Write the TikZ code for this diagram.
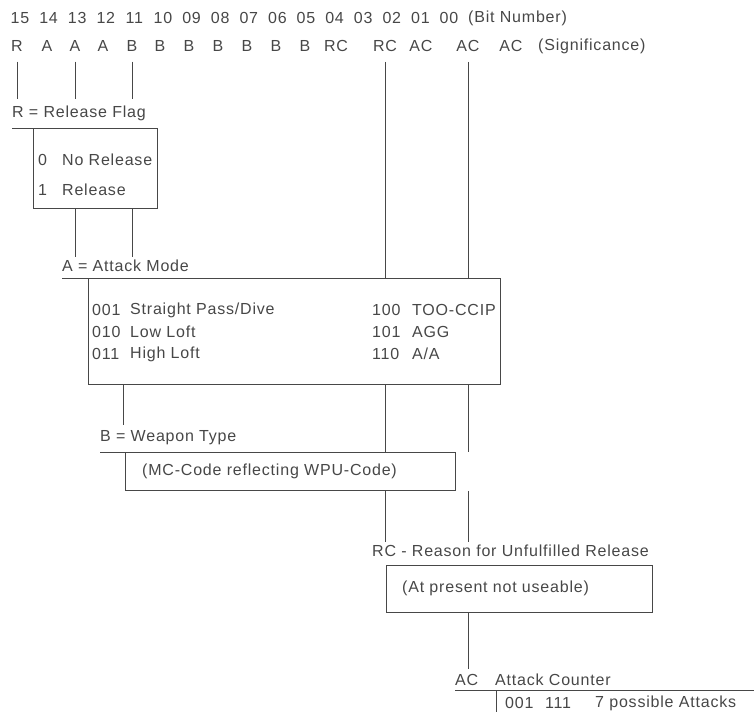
\documentclass[tikz,border=0pt]{standalone}
\usepackage{fontspec}
\setmainfont{Liberation Sans}[LetterSpace=5]
\usetikzlibrary{positioning}

\definecolor{ink}{gray}{0.28}

\tikzset{
  lbl/.style={inner sep=0pt, text=ink, font=\fontsize{16}{19}\selectfont},
  lft/.style={lbl, anchor=west},
  wire/.style={draw=ink, line width=0.8pt},
  drop/.style={wire, shorten <=10pt},
  field/.style={draw=ink, line width=0.8pt, inner sep=0pt, anchor=north west},
}

\begin{document}
\begin{tikzpicture}[x=1pt,y=-1pt]
\useasboundingbox (0,0) rectangle (754,712);

% bit numbers and their meaning
\foreach \b [count=\i from 0] in {15,14,13,12,11,10,09,08,07,06,05,04,03,02,01,00}
	\node[lbl] (n\b) at (20+28.6*\i,18) {\b};
\node[lft] (bitnum) at (468,18) {(Bit Number)};
\foreach \s/\x/\b in {R/17/15, A/47/14, A/75/13, A/103/12, B/132/11, B/160/10, B/189/09, B/218/08, B/247/07, B/276/06, B/305/05, RC/336/04, RC/385/03, AC/421/02, AC/468/01, AC/511/00}
	\node[lbl] (s\b) at (\x,46) {\s};
\node[lft] (signif) at (538,46) {(Significance)};

% R = release flag
\node[lft] (rhead) at (12,113) {R = Release Flag};
\node[field, minimum width=124pt, minimum height=80pt] (rbox) at (33,128) {};
\draw[wire] (rhead.west |- rbox.north) -- (rbox.north west);
\node[lft] (r0) at (38,160) {0};
\node[lft] (r0txt) at (62,160) {No Release};
\node[lft] (r1) at (38,190) {1};
\node[lft] (r1txt) at (62,190) {Release};
\draw[drop, shorten >=6pt] (s15.south) -- (s15 |- rhead.north);
\draw[drop, shorten >=6pt] (s13.south) -- (s13 |- rhead.north);
\draw[drop, shorten >=6pt] (s11.south) -- (s11 |- rhead.north);

% A = attack mode
\node[lft] (ahead) at (62,266) {A = Attack Mode};
\node[field, minimum width=412pt, minimum height=106pt] (abox) at (88,278) {};
\draw[wire] (ahead.west |- abox.north) -- (abox.north west);
\draw[wire, shorten >=3pt] (rbox.south -| s13) -- (s13 |- ahead.north);
\draw[wire, shorten >=3pt] (rbox.south -| s11) -- (s11 |- ahead.north);
\draw[drop] (s03.south) -- (s03 |- abox.north);
\draw[drop] (s01.south) -- (s01 |- abox.north);
\node[lft] (a1) at (92,310) {001};
\node[lft] (a1txt) at (130,310) {Straight Pass/Dive};
\node[lft] (a2) at (92,332) {010};
\node[lft] (a2txt) at (130,332) {Low Loft};
\node[lft] (a3) at (92,354) {011};
\node[lft] (a3txt) at (130,354) {High Loft};
\node[lft] (a4) at (372,310) {100};
\node[lft] (a4txt) at (412,310) {TOO-CCIP};
\node[lft] (a5) at (372,332) {101};
\node[lft] (a5txt) at (412,332) {AGG};
\node[lft] (a6) at (372,354) {110};
\node[lft] (a6txt) at (412,354) {A/A};

% B = weapon type
\node[lft] (bhead) at (100,438) {B = Weapon Type};
\node[field, minimum width=330pt, minimum height=38pt] (bbox) at (125,452) {};
\draw[wire] (bhead.west |- bbox.north) -- (bbox.north west);
\coordinate (btop) at (123,425);
\draw[wire] (abox.south -| btop) -- (btop);
\draw[wire] (abox.south -| s03) -- (s03 |- bbox.north);
\draw[wire] (abox.south -| s01) -- (s01 |- bbox.north);
\node[lft] (btxt) at (142,471) {(MC-Code reflecting WPU-Code)};

% RC = reason code
\node[lft] (rchead) at (372,551) {RC - Reason for Unfulfilled Release};
\node[field, minimum width=266pt, minimum height=47pt] (rcbox) at (386,565) {};
\draw[wire, shorten >=3pt] (bbox.south -| s03) -- (s03 |- rchead.north);
\draw[wire, shorten >=3pt] (bbox.south -| s01) -- (s01 |- rchead.north);
\node[lft] (rctxt) at (402,588) {(At present not useable)};

% AC = attack counter
\node[lft] (achead) at (455,680) {AC};
\node[lft] (actitle) at (495,680) {Attack Counter};
\draw[wire, shorten >=5pt] (rcbox.south -| s01) -- (s01 |- achead.north);
\coordinate (acend) at (754,690);
\coordinate (acfoot) at (496,712);
\draw[wire] (achead.west |- acend) -- (acend);
\draw[wire] (acfoot |- acend) -- (acfoot);
\node[lft] (ac1) at (505,703) {001};
\node[lft] (ac2) at (545,703) {111};
\node[lft] (ac3) at (595,703) {7 possible Attacks};
\end{tikzpicture}
\end{document}
